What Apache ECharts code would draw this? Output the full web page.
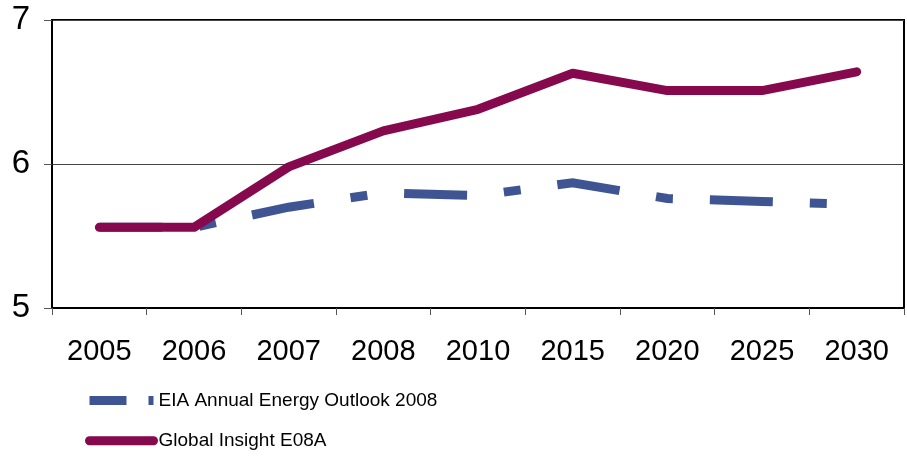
<!DOCTYPE html>
<html>
<head>
<meta charset="utf-8">
<script src="https://cdn.jsdelivr.net/npm/echarts@6/dist/echarts.min.js"></script>
<style>
  html, body { margin: 0; padding: 0; background: #fff; }
  #chart { width: 907px; height: 466px; }
</style>
</head>
<body>
<div id="chart"></div>
<script>
// categories and series values
var years = ['2005', '2006', '2007', '2008', '2010', '2015', '2020', '2025', '2030'];
var eiaValues = [5.56, 5.56, 5.70, 5.80, 5.78, 5.87, 5.76, 5.74, 5.72];
var globalValues = [5.56, 5.56, 5.98, 6.23, 6.38, 6.63, 6.51, 6.51, 6.64];
var seriesNames = ['EIA Annual Energy Outlook 2008', 'Global Insight E08A'];

var font = "'Liberation Sans', Arial, sans-serif";

var chart = echarts.init(document.getElementById('chart'));

var option = {
    animation: false,
    backgroundColor: '#fff',
    grid: {
        left: 52,
        right: 3,
        top: 20,
        bottom: 158,
        show: true,
        borderColor: '#000',
        borderWidth: 2,
        backgroundColor: 'transparent'
    },
    legend: {
        orient: 'vertical',
        left: 80,
        top: 386,
        itemWidth: 64,
        itemHeight: 24,
        itemGap: 21,
        textStyle: {
            fontFamily: font,
            fontSize: 19,
            color: '#000'
        },
        data: [
            {
                name: seriesNames[0],
                itemStyle: { opacity: 0 },
                lineStyle: { width: 9, type: [37, 22, 6, 10], cap: 'butt', color: '#3F5492' }
            },
            {
                name: seriesNames[1],
                itemStyle: { opacity: 0 },
                lineStyle: { width: 9, cap: 'round', color: '#86094E' }
            }
        ]
    },
    xAxis: {
        type: 'category',
        data: years,
        boundaryGap: true,
        axisLine: { lineStyle: { color: '#000', width: 2 } },
        axisTick: { show: true, length: 7, lineStyle: { color: '#555' } },
        axisLabel: {
            interval: 0,
            fontFamily: font,
            fontSize: 29,
            color: '#000',
            margin: 29
        }
    },
    yAxis: {
        type: 'value',
        min: 5,
        max: 7,
        interval: 1,
        axisLine: { show: true, lineStyle: { color: '#000', width: 2 } },
        axisTick: { show: true, length: 8, lineStyle: { color: '#555' } },
        axisLabel: {
            fontFamily: font,
            fontSize: 33,
            color: '#000',
            margin: 22
        },
        splitLine: { show: true, lineStyle: { color: '#444', width: 1 } }
    },
    series: [
        {
            name: seriesNames[0],
            type: 'line',
            data: eiaValues,
            symbol: 'none',
            lineStyle: {
                color: '#3F5492',
                width: 9,
                type: [63, 37, 17, 37],
                cap: 'butt',
                join: 'miter'
            },
            itemStyle: { color: '#3F5492' }
        },
        {
            name: seriesNames[1],
            type: 'line',
            data: globalValues,
            symbol: 'none',
            lineStyle: {
                color: '#86094E',
                width: 9,
                cap: 'round',
                join: 'round'
            },
            itemStyle: { color: '#86094E' }
        }
    ]
};

chart.setOption(option);
</script>
</body>
</html>
